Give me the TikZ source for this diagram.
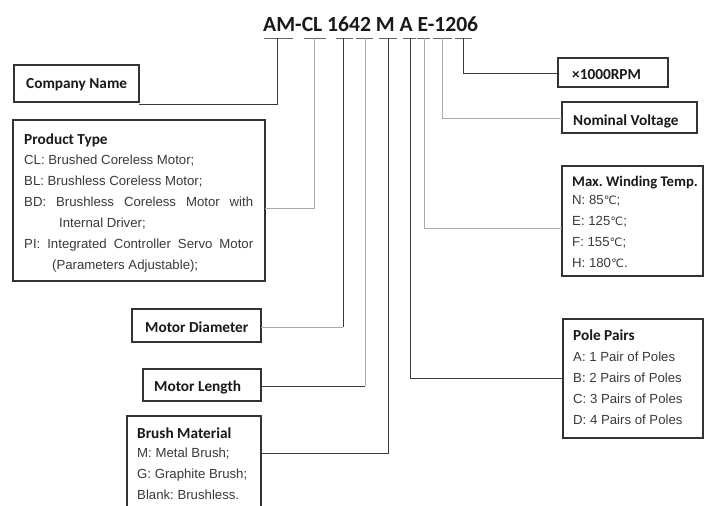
\documentclass[tikz,border=0pt]{standalone}
\usepackage{fontspec}
\setmainfont{Liberation Sans}
\newfontfamily\headfont{Carlito}
\newfontfamily\symfont{DejaVu Sans}
\definecolor{boxc}{HTML}{333333}
\definecolor{dkc}{HTML}{3A3A3A}
\definecolor{ltc}{HTML}{ABABAB}
\definecolor{bodyc}{HTML}{3A3A3A}
\newcommand{\degc}{{\symfont\fontsize{11.5}{13}\selectfont ℃}}
\frenchspacing
\begin{document}
\begin{tikzpicture}[x=1pt,y=-1pt,
  box/.style={draw=boxc, line width=1.2pt, inner sep=0pt, fill=white},
  head/.style={font=\frenchspacing\headfont\bfseries\fontsize{15.3}{18}\selectfont, text=black!90, anchor=west, inner sep=0pt, text height=10pt, text depth=0pt},
  body/.style={font=\frenchspacing\fontsize{13.2}{15}\selectfont, text=bodyc, anchor=west, inner sep=0pt, text height=9.5pt, text depth=0pt},
  dk/.style={draw=dkc, line width=1pt},
  lt/.style={draw=ltc, line width=1pt},
  tick/.style={draw=gray!80!black, line width=1pt}]
\useasboundingbox (0,0) rectangle (705,506);
\clip (0,0) rectangle (705,506);
\fill[white] (0,0) rectangle (705,506);

% title
\node[font=\headfont\bfseries\fontsize{21.6}{24}\selectfont, text=black!90, anchor=base west, inner sep=0pt] (title) at (263,31.5) {AM-CL 1642 M A E-1206};

% underline ticks
\foreach \n/\a/\b/\c in {AM/264/293/277, CL/304/326/314, D/336/353/343, L/356/373/365, M/379/397/388, A/403/416/410, E/417/430/424, V/433/452/442, R/455/472/463}{
  \coordinate (t\n) at (\c,38);
  \draw[tick] (\a,38) -- (\b,38);
}

% boxes
\node[box, minimum width=125pt, minimum height=37pt] (company) at (76.5,83.5) {};
\node[box, minimum width=252pt, minimum height=161pt] (ptype) at (139,200.5) {};
\node[box, minimum width=129pt, minimum height=33pt] (diam) at (196.5,325.5) {};
\node[box, minimum width=118pt, minimum height=32pt] (length) at (202,385) {};
\node[box, minimum width=134pt, minimum height=110pt] (brush) at (194,471) {};
\node[box, minimum width=110pt, minimum height=29pt] (rpm) at (613,72.5) {};
\node[box, minimum width=135pt, minimum height=31pt] (volt) at (629.5,117.5) {};
\node[box, minimum width=141pt, minimum height=110pt] (temp) at (632.5,221) {};
\node[box, minimum width=140pt, minimum height=119pt] (pole) at (633,378.5) {};

% connector end points on box edges
\coordinate (inCompany) at (139,104);
\coordinate (inPtype) at (265,208);
\coordinate (inDiam) at (261,327);
\coordinate (inLength) at (261,386);
\coordinate (inBrush) at (261,453);
\coordinate (inPole) at (563,378);
\coordinate (inTemp) at (562,228);
\coordinate (inVolt) at (562,118);
\coordinate (inRpm) at (558,73);

% connectors
\draw[dk] (tAM) |- (inCompany);
\draw[lt] (tCL) |- (inPtype);
\draw[dk] (tD) -- (tD |- inDiam);
\draw[lt] (tD |- inDiam) -- (inDiam);
\draw[lt] (tL) -- (tL |- inLength);
\draw[dk] (tL |- inLength) -- (inLength);
\draw[dk] (tM) |- (inBrush);
\draw[dk] (tA) |- (inPole);
\draw[lt] (tE) |- (inTemp);
\draw[lt] (tV) |- (inVolt);
\draw[dk] (tR) |- (inRpm);

% texts
\node[head] (tcompany) at (26,83) {Company Name};

\node[head] (tptype) at (24,139) {Product Type};
\node[body] (p1) at (24,160) {CL: Brushed Coreless Motor;};
\node[body] (p2) at (24,181) {BL: Brushless Coreless Motor;};
\node[body] (p3) at (24,202) {\makebox[229pt][s]{BD: Brushless Coreless Motor with}};
\node[body] (p4) at (59,223) {Internal Driver;};
\node[body] (p5) at (24,244) {\makebox[229pt][s]{PI: Integrated Controller Servo Motor}};
\node[body] (p6) at (52,265) {(Parameters Adjustable);};

\node[head] (tdiam) at (145,327) {Motor Diameter};
\node[head] (tlength) at (154,386) {Motor Length};

\node[head] (tbrush) at (137,433) {Brush Material};
\node[body] (b1) at (137,453) {M: Metal Brush;};
\node[body] (b2) at (137,474) {G: Graphite Brush;};
\node[body] (b3) at (137,495) {Blank: Brushless.};

\node[head] (trpm) at (572,74) {×1000RPM};
\node[head] (tvolt) at (573,120) {Nominal Voltage};

\node[head, font=\frenchspacing\headfont\bfseries\fontsize{14.7}{18}\selectfont] (ttemp) at (572,181) {Max. Winding Temp.};
\node[body] (w1) at (572,200) {N: 85\degc;};
\node[body] (w2) at (572,221) {E: 125\degc;};
\node[body] (w3) at (572,242) {F: 155\degc;};
\node[body] (w4) at (572,263) {H: 180\degc.};

\node[head] (tpole) at (573,335) {Pole Pairs};
\node[body] (q1) at (573,357) {A: 1 Pair of Poles};
\node[body] (q2) at (573,378) {B: 2 Pairs of Poles};
\node[body] (q3) at (573,399) {C: 3 Pairs of Poles};
\node[body] (q4) at (573,420) {D: 4 Pairs of Poles};
\end{tikzpicture}
\end{document}
